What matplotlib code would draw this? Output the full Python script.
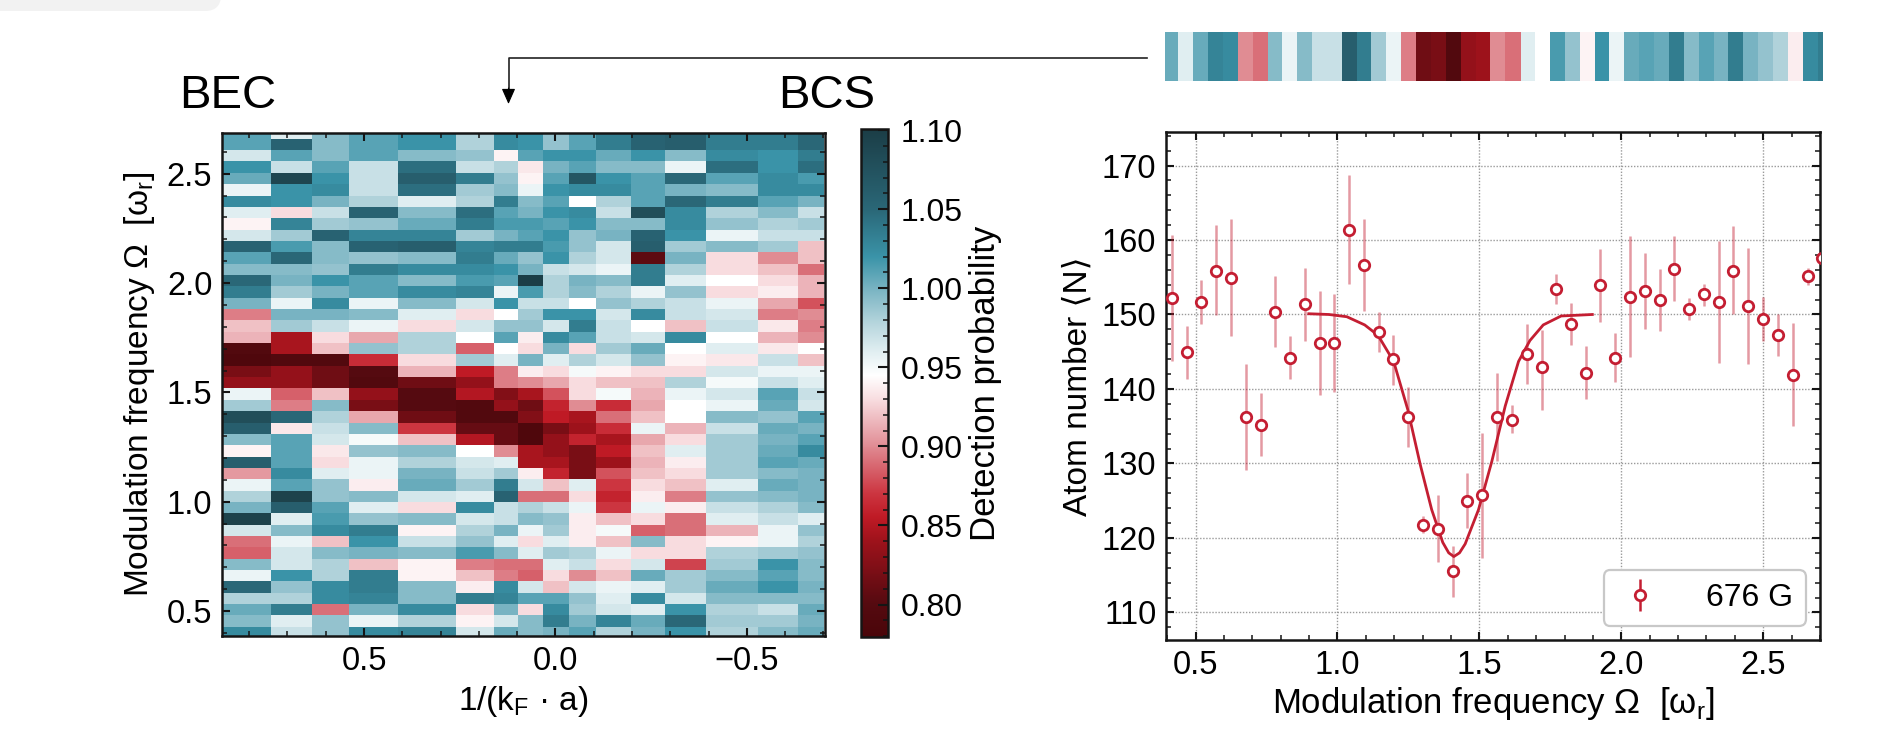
import numpy as np
import matplotlib
matplotlib.use("Agg")
import matplotlib.pyplot as plt
from matplotlib.colors import LinearSegmentedColormap, Normalize
from matplotlib.patches import FancyBboxPatch
from matplotlib.ticker import MultipleLocator

plt.rcParams['font.family'] = ['Liberation Sans', 'DejaVu Sans']
plt.rcParams['mathtext.fontset'] = 'custom'
plt.rcParams['mathtext.rm'] = 'Liberation Sans'
plt.rcParams['axes.unicode_minus'] = True

W, H = 1903, 743
DARK = '#151515'
RED = '#c41e32'

# 1/(kF a) column edges of the map, left to right
kfa_edges = [0.870, 0.742, 0.636, 0.540, 0.410, 0.261, 0.161, 0.097, 0.033,
             -0.036, -0.105, -0.196, -0.286, -0.393, -0.530, -0.633, -0.702]
# row edges, bottom to top
freq_edges = [0.376, 0.428, 0.480, 0.532, 0.584, 0.636, 0.687, 0.739, 0.791, 0.843,
              0.895, 0.947, 0.999, 1.051, 1.103, 1.155, 1.206, 1.258, 1.310, 1.362,
              1.414, 1.466, 1.518, 1.570, 1.622, 1.674, 1.725, 1.777, 1.829, 1.881,
              1.933, 1.985, 2.037, 2.089, 2.141, 2.193, 2.244, 2.296, 2.348, 2.400,
              2.452, 2.504, 2.556, 2.608, 2.660, 2.712]

# detection probability, top row first
heat = [
    [1.01, .96, .995, 1.01, 1.02, .98, 1.025, 1.02, .99, 1.01, 1.035, 1.055, 1.06, 1.035, 1.035, 1.05],
    [1.01, 1.055, .995, 1.01, 1.02, .98, 1.025, 1.02, .99, 1.01, 1.035, 1.055, 1.06, 1.035, 1.035, 1.05],
    [.965, 1.01, .995, 1.01, .995, .99, .94, 1.01, 1.02, 1.02, 1.005, 1.02, .995, 1.025, 1.02, 1.035],
    [1.02, .97, 1.01, .97, 1.045, .97, .98, .935, 1.0, 1.01, .995, .995, .955, 1.045, 1.02, 1.045],
    [1.005, 1.09, 1.02, .97, 1.06, 1.035, .99, .94, 1.01, 1.07, 1.02, 1.01, 1.05, 1.01, 1.025, 1.015],
    [.955, 1.02, 1.025, .97, 1.045, .985, .995, .955, 1.02, 1.025, 1.025, 1.01, 1.0, .995, 1.025, 1.025],
    [1.025, 1.02, 1.0, .98, .96, .98, 1.035, .995, 1.01, .945, .98, 1.01, 1.05, 1.035, 1.01, 1.0],
    [.96, .93, .97, 1.055, .995, 1.045, 1.01, 1.0, 1.02, 1.025, .97, 1.08, 1.025, .98, .995, .97],
    [.94, 1.03, .985, .99, 1.005, 1.035, 1.015, 1.015, 1.01, 1.02, .995, .995, 1.025, .99, .98, .985],
    [.965, .985, 1.055, 1.03, 1.03, .985, 1.0, 1.01, 1.02, .99, 1.0, 1.055, 1.02, .955, .97, .97],
    [1.055, 1.015, .995, 1.055, 1.06, 1.03, 1.035, 1.035, 1.015, .99, .965, 1.06, .985, .995, .985, .92],
    [1.01, 1.05, .995, .99, .995, 1.035, 1.005, .99, 1.02, .98, .965, .805, 1.0, .93, .90, .92],
    [.995, .995, .99, 1.035, 1.025, 1.025, 1.02, 1.0, .97, .965, .955, 1.035, .98, .93, .92, .89],
    [1.05, 1.0, 1.02, 1.01, .995, 1.015, 1.01, 1.10, .98, 1.0, .995, 1.035, .96, .945, .93, .915],
    [1.035, .985, 1.0, 1.01, 1.025, 1.03, .955, 1.015, .98, .995, .98, .955, .99, .93, .937, .915],
    [1.0, .955, 1.025, .955, .995, .965, 1.02, .97, .97, .945, .99, .98, .97, .955, .91, .88],
    [.895, 1.0, 1.0, .995, .96, .93, .945, .985, 1.02, 1.02, .965, 1.025, .97, .965, .895, .90],
    [.92, .985, .97, .955, .93, .965, .99, .99, .965, 1.035, .97, .945, .92, .97, .935, .895],
    [.915, .845, .93, .91, .98, .945, 1.01, .937, 1.025, 1.01, .97, .965, 1.025, .945, .915, .90],
    [.795, .845, .92, .99, .98, .885, .945, .93, 1.0, .93, .985, 1.005, .945, .96, .935, .945],
    [.79, .795, .795, .865, .93, .985, .96, 1.0, .96, .98, .965, .99, .94, .935, .97, .92],
    [.82, .835, .815, .80, .915, .855, .895, .937, .93, .95, .94, .93, .93, .965, .955, .955],
    [.835, .835, .815, .795, .815, .835, .895, .90, .91, .93, .92, .92, .98, .95, .97, .96],
    [.955, .885, .92, .835, .80, .85, .825, .845, .88, .93, .95, .915, .955, .965, 1.01, .97],
    [.985, .895, .995, .82, .80, .795, .835, .815, .86, .90, .865, .91, .945, .955, 1.005, .965],
    [1.08, 1.05, .98, .91, .815, .795, .795, .825, .855, .845, .89, .92, .945, .995, .99, 1.01],
    [1.06, .935, .97, .995, .87, .81, .81, .79, .82, .84, .865, .955, .915, .97, 1.005, 1.0],
    [.995, 1.01, .965, .95, .92, .85, .81, .79, .835, .86, .845, .91, .93, .985, 1.0, 1.01],
    [.94, 1.01, .935, .99, .995, .945, .90, .845, .835, .82, .855, .92, .96, .985, 1.005, 1.025],
    [1.06, 1.01, .93, .955, .98, .965, .96, .845, .845, .82, .84, .915, .937, .985, 1.01, 1.005],
    [.905, 1.025, .96, .955, 1.0, .97, .985, .937, .86, .82, .88, .92, .93, .985, .995, 1.0],
    [.955, 1.01, .99, .937, 1.005, .985, 1.035, .965, .92, .96, .87, .93, .92, .96, 1.005, 1.0],
    [.98, 1.095, .99, .995, .965, .96, 1.055, .89, .89, .93, .86, .937, .895, .99, .995, 1.0],
    [1.0, 1.06, 1.01, .96, .93, 1.025, .97, .98, .97, .955, .87, .955, .937, .97, .98, .995],
    [1.095, .96, 1.015, .99, .995, .965, .97, .995, .99, .937, .92, .93, .89, .96, .97, .96],
    [.965, .995, 1.025, 1.035, .94, .98, 1.0, .955, .985, .937, .95, .885, .89, .915, .955, .99],
    [.89, .955, .92, 1.02, .97, .99, .96, .93, .96, .937, .92, .995, .93, .94, .955, .98],
    [.885, .965, .995, 1.0, .995, 1.015, .995, .96, .985, .98, .955, .93, .93, .98, .985, .99],
    [.995, .965, .98, .92, .94, .895, .89, .89, .96, .97, .93, .965, .875, .985, 1.02, .995],
    [.955, 1.02, .98, 1.035, .94, .92, .895, .885, .93, .90, .92, 1.005, .985, .995, 1.01, .995],
    [1.05, .99, 1.025, 1.035, .995, .937, 1.025, .965, .92, .965, .955, .96, .985, 1.005, 1.02, 1.0],
    [.98, .98, 1.025, 1.03, .995, 1.035, 1.03, 1.01, 1.01, .99, .96, 1.025, .965, .995, .995, .995],
    [1.005, 1.035, .89, 1.0, 1.025, .93, 1.0, .93, 1.025, .985, .965, .96, 1.02, .98, .97, 1.005],
    [.995, .96, .99, .955, .98, .94, .965, .995, 1.035, 1.0, 1.03, 1.005, 1.05, .985, .985, 1.0],
    [1.025, .97, .99, 1.025, 1.03, .965, 1.005, .995, 1.0, 1.01, .98, 1.0, 1.02, .98, .995, 1.005],
]

# atom number scan at 676 G
omega = [0.417, 0.469, 0.520, 0.572, 0.624, 0.678, 0.730, 0.781, 0.833, 0.885, 0.937, 0.989,
         1.041, 1.093, 1.145, 1.197, 1.248, 1.302, 1.354, 1.406, 1.458, 1.509, 1.561, 1.615,
         1.667, 1.719, 1.770, 1.822, 1.874, 1.926, 1.978, 2.030, 2.082, 2.135, 2.187, 2.239,
         2.291, 2.343, 2.395, 2.447, 2.500, 2.552, 2.604, 2.656, 2.708]
atoms = [152.2, 144.9, 151.7, 155.9, 154.9, 136.2, 135.2, 150.4, 144.2, 151.4, 146.2, 146.2,
         161.4, 156.7, 147.7, 144.0, 136.2, 121.7, 121.2, 115.5, 125.0, 125.7, 136.2, 135.9,
         144.7, 142.9, 153.4, 148.7, 142.2, 153.9, 144.2, 152.4, 153.2, 152.0, 156.1, 150.7,
         152.7, 151.7, 155.9, 151.1, 149.4, 147.2, 141.9, 155.2, 157.6]
atoms_hi = [160.7, 148.5, 154.6, 162.0, 162.8, 143.3, 139.4, 155.2, 147.1, 156.3, 153.1, 152.8,
            168.7, 162.8, 150.3, 147.2, 140.2, 122.9, 125.7, 118.9, 128.7, 134.1, 142.1, 137.8,
            148.7, 147.9, 155.5, 151.5, 145.8, 158.8, 147.5, 160.6, 158.2, 156.1, 160.5, 152.2,
            154.1, 159.9, 161.9, 158.9, 152.4, 150.0, 148.9, 156.2, 159.0]
atoms_lo = [143.7, 141.4, 148.7, 149.9, 147.1, 129.1, 131.0, 145.7, 141.3, 146.5, 139.2, 139.6,
            154.1, 150.5, 145.0, 140.6, 132.2, 120.6, 116.8, 112.1, 121.3, 117.3, 130.3, 134.1,
            140.7, 137.2, 151.4, 145.9, 138.6, 149.0, 140.9, 144.3, 148.1, 147.8, 151.8, 149.2,
            151.2, 143.5, 150.0, 143.4, 146.4, 144.4, 135.0, 154.0, 156.2]

# fit line
fit_x = [0.899, 0.970, 1.033, 1.096, 1.143, 1.198, 1.248, 1.292, 1.332, 1.371, 1.392, 1.410,
         1.430, 1.450, 1.497, 1.544, 1.591, 1.638, 1.678, 1.725, 1.788, 1.898]
fit_y = [150.1, 150.0, 149.7, 148.6, 147.2, 143.7, 137.2, 129.8, 123.8, 119.4, 118.0, 117.5,
         118.0, 119.2, 123.8, 130.3, 137.7, 143.7, 146.5, 148.6, 149.8, 150.0]

# cut through the map shown above the scan, one cell per omega
strip = [1.005, .96, 1.005, 1.03, 1.025, .90, .89, .995, .955, .995, .97, .97, 1.06, 1.035, .985,
         .955, .895, .815, .82, .795, .835, .84, .90, .89, .96, .945, 1.015, .99, .94, 1.02,
         .955, 1.005, 1.01, 1.005, 1.035, .995, 1.01, 1.0, 1.035, 1.0, .99, .98, .937, 1.025, 1.035]

vmin, vmax = 0.7795, 1.1007
cmap_levels = [0.7795, 0.80, 0.84, 0.855, 0.87, 0.90, 0.93, 0.945, 0.96, 0.98, 1.00, 1.02, 1.05, 1.1007]
cmap_colors = ['#4a0509', '#550a10', '#9d121b', '#bf1a25', '#cc3540', '#e08b93', '#f8dde0',
               '#ffffff', '#e0eef1', '#b0d2da', '#78b3c2', '#3a93a8', '#2a6777', '#1b3d46']
nodes = [(l - vmin) / (vmax - vmin) for l in cmap_levels]
cmap = LinearSegmentedColormap.from_list('rb', list(zip(nodes, cmap_colors)), N=512)
norm = Normalize(vmin, vmax)


def px_axes(fig, x0, y0, x1, y1):
    return fig.add_axes([x0 / W, 1 - y1 / H, (x1 - x0) / W, (y1 - y0) / H])


def style_axes(ax, xminor, yminor):
    for s in ax.spines.values():
        s.set_linewidth(1.8)
        s.set_color(DARK)
    ax.xaxis.set_minor_locator(MultipleLocator(xminor))
    ax.yaxis.set_minor_locator(MultipleLocator(yminor))
    ax.tick_params(which='both', direction='in', top=True, right=True, color=DARK)
    ax.tick_params(which='major', length=6, width=1.5, labelsize=23.5, pad=7)
    ax.tick_params(which='minor', length=3.5, width=1.1)


fig = plt.figure(figsize=(W / 100, H / 100), dpi=100)

# map
ax1 = px_axes(fig, 222, 133, 825, 636)
mesh = ax1.pcolormesh(kfa_edges, freq_edges, np.array(heat)[::-1], cmap=cmap, norm=norm)
ax1.set_xlim(0.871, -0.704)
ax1.set_ylim(0.386, 2.686)
ax1.set_xticks([0.5, 0.0, -0.5])
ax1.set_yticks([0.5, 1.0, 1.5, 2.0, 2.5])
style_axes(ax1, 0.1, 0.1)
ax1.set_xlabel(r'1/(k$_\mathrm{F}$ · a)', fontsize=24, labelpad=5)
ax1.set_ylabel(r'Modulation frequency Ω  [ω$_\mathrm{r}$]', fontsize=24, labelpad=7)

# colorbar
cax = px_axes(fig, 861, 129, 888, 637)
cb = fig.colorbar(mesh, cax=cax)
cb.set_ticks([0.80, 0.85, 0.90, 0.95, 1.00, 1.05, 1.10])
cb.ax.set_yticklabels(['0.80', '0.85', '0.90', '0.95', '1.00', '1.05', '1.10'])
cax.yaxis.set_minor_locator(MultipleLocator(0.01))
cax.tick_params(which='both', direction='in', color=DARK)
cax.tick_params(which='major', length=7, width=1.5, labelsize=23, pad=9)
cax.tick_params(which='minor', length=3.5, width=1.1)
cb.outline.set_linewidth(1.8)
cb.outline.set_edgecolor(DARK)
cb.set_label('Detection probability', fontsize=25, labelpad=5)

# scan
ax2 = px_axes(fig, 1166, 132, 1820, 640)
yerr = [np.array(atoms) - np.array(atoms_lo), np.array(atoms_hi) - np.array(atoms)]
ax2.errorbar(omega, atoms, yerr=yerr, fmt='none', ecolor=RED, elinewidth=1.8, alpha=0.45, zorder=3)
ax2.plot(omega, atoms, 'o', mfc='white', mec=RED, mew=2.0, ms=7.5, zorder=5)
ax2.plot(fit_x, fit_y, '-', color=RED, lw=2.0, zorder=4)
ax2.errorbar([], [], yerr=[], fmt='o', mfc='white', mec=RED, mew=2.0, ms=7.5,
             ecolor=RED, elinewidth=1.8, label='676 G')
ax2.set_xlim(0.396, 2.70)
ax2.set_ylim(106.3, 174.5)
ax2.set_xticks([0.5, 1.0, 1.5, 2.0, 2.5])
ax2.set_yticks([110, 120, 130, 140, 150, 160, 170])
ax2.grid(True, which='major', ls=(0, (1, 1.2)), color='#9a9a9a', lw=1.0)
ax2.set_axisbelow(True)
style_axes(ax2, 0.1, 2)
ax2.set_xlabel(r'Modulation frequency Ω  [ω$_\mathrm{r}$]', fontsize=25, labelpad=3)
ax2.set_ylabel('Atom number ⟨N⟩', fontsize=24, labelpad=6)
leg = ax2.legend(loc='lower right', fontsize=23, numpoints=1, frameon=True, fancybox=True,
                 framealpha=1, handletextpad=1.3, handlelength=1.5, borderpad=0.4,
                 bbox_to_anchor=(0.978, 0.028), borderaxespad=0)
leg.get_frame().set_edgecolor('#c8c8c8')
leg.get_frame().set_linewidth(1.6)

# strip above the scan, cells centred on the omega values
ax3 = px_axes(fig, 1165, 32, 1823, 81)
mid = (np.array(omega[:-1]) + np.array(omega[1:])) / 2
strip_edges = np.concatenate([[0.396], mid, [2.70]])
ax3.pcolormesh(strip_edges, [0, 1], np.array([strip]), cmap=cmap, norm=norm)
ax3.set_xlim(0.396, 2.70)
ax3.set_axis_off()

# overlay in pixel coordinates for the annotations
over = fig.add_axes([0, 0, 1, 1], zorder=-1)
over.set_xlim(0, W)
over.set_ylim(H, 0)
over.set_axis_off()
over.add_patch(FancyBboxPatch((-40, -30), 261, 41, boxstyle='round,pad=0,rounding_size=16',
                              fc='#f2f2f2', ec='none'))
over.plot([1147, 508.5, 508.5], [58, 58, 92], color='#222222', lw=1.2)
over.annotate('', xy=(508.5, 104), xytext=(508.5, 88),
              arrowprops=dict(arrowstyle='-|>,head_length=0.95,head_width=0.42',
                              color='black', lw=0.8, shrinkA=0, shrinkB=0))
over.text(179, 108, 'BEC', fontsize=34, ha='left', va='baseline', color='black')
over.text(778, 108, 'BCS', fontsize=34, ha='left', va='baseline', color='black')

fig.savefig('out.png', dpi=100)
